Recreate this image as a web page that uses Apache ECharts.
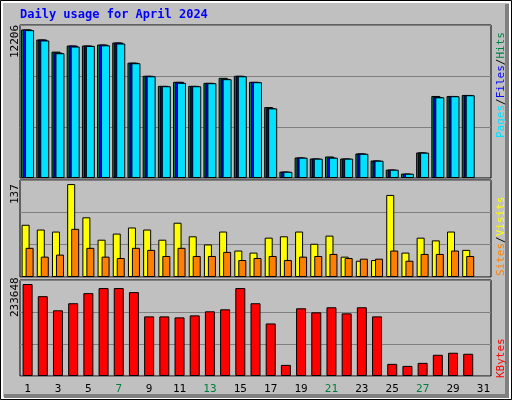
<!DOCTYPE html>
<html><head><meta charset="utf-8">
<script src="https://cdn.jsdelivr.net/npm/echarts@6/dist/echarts.min.js"></script>
<style>body{margin:0;background:#fff}#c{width:512px;height:400px}</style>
</head><body><div id="c"></div>
<script>
// daily usage, April 2024
var days = [];
for (var d = 1; d <= 31; d++) days.push(String(d));
var weekend = ['6','7','13','14','20','21','27','28'];

var hits = [12206,11379,10385,10882,10882,10965,11131,9474,8396,7568,7899,7568,7816,8231,8396,7899,5828,525,1685,1602,1768,1602,2016,1436,690,359,2099,6739,6739,6822];
var files = [12206,11379,10302,10882,10882,10965,11131,9474,8396,7568,7899,7568,7816,8148,8396,7899,5745,525,1685,1602,1685,1602,2016,1436,690,359,2099,6656,6739,6822];
var pages = [12150,11300,10250,10800,10850,10900,11050,9430,8360,7540,7820,7540,7790,8120,8360,7870,5720,510,1670,1590,1670,1590,1990,1420,680,350,2080,6630,6720,6800];
var visits = [77,70,67,137,88,55,64,73,70,55,80,60,48,67,39,36,58,60,67,49,61,30,24,25,121,36,58,54,67,40];
var sites = [43,30,33,71,43,30,28,43,40,31,43,31,31,37,25,28,31,25,30,31,34,28,27,27,39,24,34,34,39,31];
var kbytes = [233648,202848,166900,184874,210551,223390,223390,213119,151494,151494,148927,154062,164333,169468,223390,184874,133520,28245,172036,161765,174604,159197,174604,151494,30812,25677,33380,53922,59057,56489];

var chart = echarts.init(document.getElementById('c'));
var font = '"DejaVu Sans Mono", monospace';

function xax(i, show) {
    return {
        type: 'category', data: days, gridIndex: i,
        axisLine: {show: false}, axisTick: {show: false},
        axisLabel: {show: show, fontFamily: font, fontSize: 11, margin: 8,
            color: function (v) { return weekend.indexOf(v) >= 0 ? '#007f3f' : '#000'; }}
    };
}
function yax(i, max) {
    return {
        type: 'value', gridIndex: i, min: 0, max: max, interval: max / 3,
        axisLabel: {show: false}, axisLine: {show: false}, axisTick: {show: false},
        splitLine: {lineStyle: {color: '#808080', width: 1}}
    };
}
function bar(name, data, color, xi, w, gap) {
    return {
        name: name, type: 'bar', data: data, xAxisIndex: xi, yAxisIndex: xi,
        barWidth: w, barGap: gap, animation: false,
        itemStyle: {color: color, borderColor: '#000', borderWidth: 1}
    };
}

chart.setOption({
    backgroundColor: '#c0c0c0',
    grid: [
        {left: 20, right: 21, top: 25, height: 153, show: true, borderColor: '#000', backgroundColor: '#c0c0c0'},
        {left: 20, right: 21, top: 180, height: 97, show: true, borderColor: '#000', backgroundColor: '#c0c0c0'},
        {left: 20, right: 21, top: 280, height: 96, show: true, borderColor: '#000', backgroundColor: '#c0c0c0'}
    ],
    xAxis: [xax(0, false), xax(1, false), xax(2, true)],
    yAxis: [yax(0, 12570), yax(1, 143), yax(2, 243919)],
    series: [
        bar('Hits', hits, '#008040', 0, 9, '-78%'),
        bar('Files', files, '#0000ff', 0, 9, '-78%'),
        bar('Pages', pages, '#00e0ff', 0, 9, '-78%'),
        bar('Visits', visits, '#ffff00', 1, 8, '-50%'),
        bar('Sites', sites, '#ff8000', 1, 8, '-50%'),
        bar('KBytes', kbytes, '#ff0000', 2, 10, '0%')
    ],
    graphic: [
        {type: 'rect', shape: {x: 0.5, y: 0.5, width: 511, height: 399}, style: {fill: null, stroke: '#000', lineWidth: 1}},
        {type: 'rect', shape: {x: 2, y: 2, width: 508, height: 396}, style: {fill: null, stroke: '#fff', lineWidth: 2}},
        {type: 'rect', shape: {x: 505, y: 4, width: 4, height: 394}, style: {fill: '#808080'}},
        {type: 'rect', shape: {x: 4, y: 394, width: 505, height: 4}, style: {fill: '#808080'}},
        {type: 'text', x: 20, y: 9, style: {text: 'Daily usage for April 2024', font: 'bold 12px ' + font, fill: '#0000ff'}},
        {type: 'text', x: 10, y: 58, rotation: Math.PI / 2, style: {text: '12206', font: '11px ' + font, fill: '#000'}},
        {type: 'text', x: 10, y: 204, rotation: Math.PI / 2, style: {text: '137', font: '11px ' + font, fill: '#000'}},
        {type: 'text', x: 10, y: 317, rotation: Math.PI / 2, style: {text: '233648', font: '11px ' + font, fill: '#000'}},
        {type: 'text', x: 496, y: 138, rotation: Math.PI / 2, style: {rich: {p: {fill: '#00e0ff'}, s: {fill: '#000'}, f: {fill: '#0000ff'}, h: {fill: '#008040'}},
            text: '{p|Pages}{s|/}{f|Files}{s|/}{h|Hits}', font: '11px ' + font}},
        {type: 'text', x: 496, y: 276, rotation: Math.PI / 2, style: {rich: {a: {fill: '#ff8000'}, s: {fill: '#000'}, b: {fill: '#ffff00'}},
            text: '{a|Sites}{s|/}{b|Visits}', font: '11px ' + font}},
        {type: 'text', x: 496, y: 378, rotation: Math.PI / 2, style: {text: 'KBytes', font: '11px ' + font, fill: '#ff0000'}}
    ]
});
</script>
</body></html>
